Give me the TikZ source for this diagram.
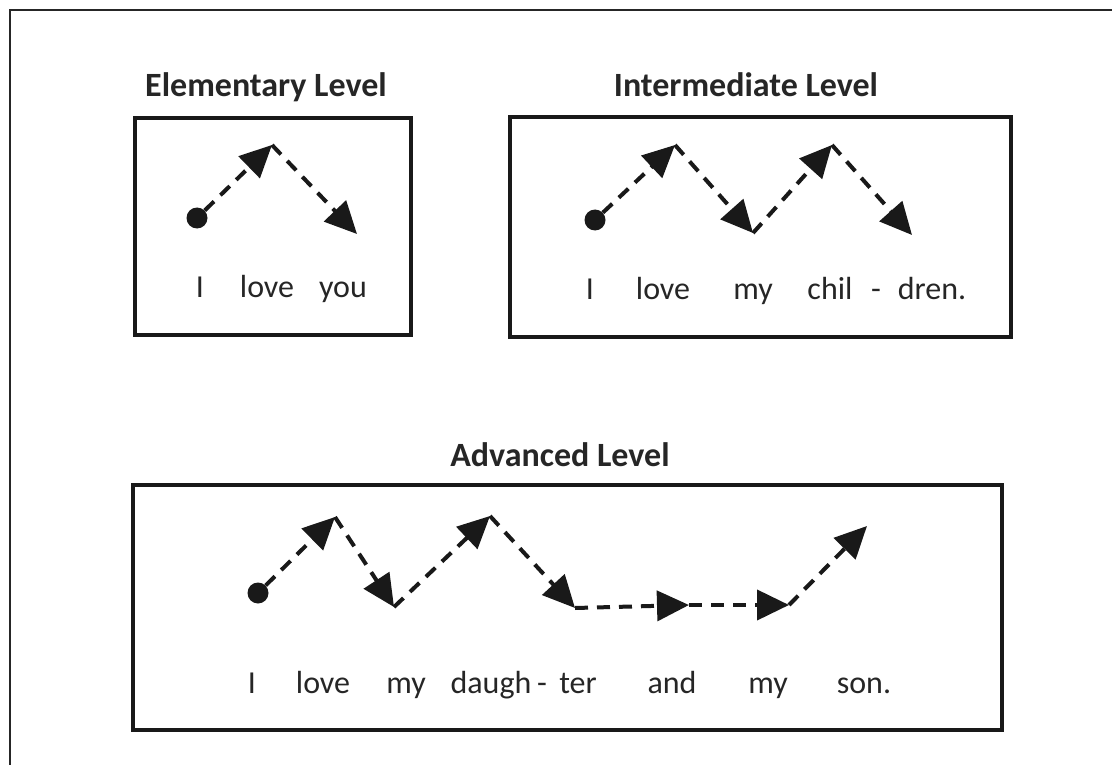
\documentclass[tikz,border=0pt]{standalone}
\usepackage{fontspec}
\setmainfont{Carlito}
\usetikzlibrary{arrows.meta}
\begin{document}
\begin{tikzpicture}[x=1pt,y=-1pt,
  frame/.style={draw=black!85, line width=2.5pt},
  levelbox/.style={draw=black!90, line width=3.5pt, inner sep=0pt, rectangle},
  title/.style={anchor=base, font=\fontsize{34}{40}\selectfont\bfseries, text=black!85, inner sep=0pt},
  word/.style={anchor=base, font=\fontsize{32}{38}\selectfont, text=black!85, inner sep=0pt},
  dot/.style={circle, fill=black!90, inner sep=0pt, minimum size=21pt},
  darr/.style={draw=black!90, line width=4pt, dash pattern=on 13pt off 9pt,
    -{Triangle[length=32pt,width=30pt]}}
]
\useasboundingbox (0,0) rectangle (1112,765);
% outer frame
\coordinate (fa) at (10,765);
\coordinate (fb) at (10,10);
\coordinate (fc) at (1112,10);
\draw[frame] (fa) -- (fb) -- (fc);

% ---------- Elementary ----------
\node[title] (t1) at (266,97) {Elementary Level};
\node[levelbox, minimum width=276pt, minimum height=217pt] (b1) at (273,226.5) {};
\node[dot] (d1) at (197,218) {};
\coordinate (e1p) at (272,145);
\coordinate (e1e) at (357,234);
\draw[darr] (d1) -- (e1p);
\draw[darr] (e1p) -- (e1e);
\node[word] (w11) at (200,297) {I};
\node[word] (w12) at (267,297) {love};
\node[word] (w13) at (343,297) {you};

% ---------- Intermediate ----------
\node[title] (t2) at (746,97) {Intermediate Level};
\node[levelbox, minimum width=501pt, minimum height=220pt] (b2) at (760.5,227) {};
\node[dot] (d2) at (595,220) {};
\coordinate (i2p1) at (675,145);
\coordinate (i2v) at (753,233);
\coordinate (i2p2) at (832,145);
\coordinate (i2e) at (912,235);
\draw[darr] (d2) -- (i2p1);
\draw[darr] (i2p1) -- (i2v);
\draw[darr] (i2v) -- (i2p2);
\draw[darr] (i2p2) -- (i2e);
\node[word] (w21) at (590,299) {I};
\node[word] (w22) at (663,299) {love};
\node[word] (w23) at (753,299) {my};
\node[word] (w24) at (830,299) {chil};
\node[word] (w25) at (876,299) {-};
\node[word] (w26) at (932,299) {dren.};

% ---------- Advanced ----------
\node[title] (t3) at (560,466) {Advanced Level};
\node[levelbox, minimum width=869pt, minimum height=245pt] (b3) at (567.5,607.5) {};
\node[dot] (d3) at (258,593) {};
\coordinate (a3p1) at (335,517);
\coordinate (a3v1) at (394,607);
\coordinate (a3p2) at (490,516);
\coordinate (a3v2) at (575,608);
\coordinate (a3h1) at (689,605);
\coordinate (a3h2) at (789,605);
\coordinate (a3e) at (867,526);
\draw[darr] (d3) -- (a3p1);
\draw[darr] (a3p1) -- (a3v1);
\draw[darr] (a3v1) -- (a3p2);
\draw[darr] (a3p2) -- (a3v2);
\draw[darr] (a3v2) -- (a3h1);
\draw[darr] (a3h1) -- (a3h2);
\draw[darr] (a3h2) -- (a3e);
\node[word] (w31) at (252,693) {I};
\node[word] (w32) at (323,693) {love};
\node[word] (w33) at (406,693) {my};
\node[word] (w34) at (491,693) {daugh};
\node[word] (w35) at (542,693) {-};
\node[word] (w36) at (578,693) {ter};
\node[word] (w37) at (672,693) {and};
\node[word] (w38) at (768,693) {my};
\node[word] (w39) at (864,693) {son.};
\end{tikzpicture}
\end{document}
